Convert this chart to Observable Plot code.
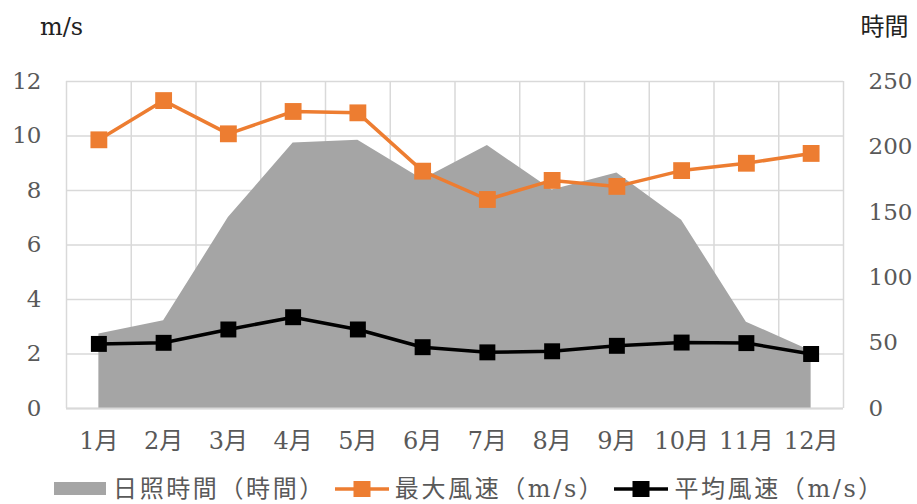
<!DOCTYPE html>
<html><head><meta charset="utf-8">
<script src="https://cdn.jsdelivr.net/npm/d3@7"></script>
<script src="https://cdn.jsdelivr.net/npm/@observablehq/plot@0.6"></script>
<style>
body{margin:0;background:#fff;width:917px;height:504px;overflow:hidden;font-family:"DejaVu Serif","Noto Sans CJK JP",serif;}
#chart svg, #chart svg text{font-family:"DejaVu Serif","Noto Sans CJK JP",serif !important;}
#chart{height:460px;}
#legend{display:flex;justify-content:center;align-items:center;height:28px;line-height:1;font-size:24px;letter-spacing:2.6px;color:#595959;font-family:"DejaVu Serif","Noto Sans CJK JP",serif;margin-top:15px;padding-left:20px;}
#legend .item{display:flex;align-items:center;margin:0 4px;}
#legend span{line-height:1;}
#legend svg{margin-right:5px;}
</style></head>
<body>
<div id="chart"></div>
<div id="legend"></div>
<script>
const months = ["1月","2月","3月","4月","5月","6月","7月","8月","9月","10月","11月","12月"];
const sunshine = [57, 67, 146, 203, 205, 175, 201, 167, 180, 144, 66, 44];
const maxWind = [9.86, 11.3, 10.08, 10.9, 10.85, 8.71, 7.67, 8.37, 8.15, 8.73, 9.0, 9.36];
const avgWind = [2.37, 2.41, 2.9, 3.35, 2.9, 2.25, 2.06, 2.1, 2.3, 2.42, 2.4, 2.0];
const leftTicks = [0, 2, 4, 6, 8, 10, 12];
const rightTicks = [0, 50, 100, 150, 200, 250];
const seriesNames = ["日照時間（時間）", "最大風速（m/s）", "平均風速（m/s）"];
const colors = ["#A5A5A5", "#ED7D31", "#000000"];

const leftMax = 12, rightMax = 250;
const k = leftMax / rightMax;
const idx = months.map((_, i) => i + 1);
const data = months.map((m, i) => ({i: i + 1, m, sun: sunshine[i] * k, max: maxWind[i], avg: avgWind[i]}));
const bounds = d3.range(0, months.length + 1).map(i => i + 0.5);
const grid = "#D9D9D9";
const textColor = "#595959";

const chart = Plot.plot({
  width: 917,
  height: 460,
  marginLeft: 66,
  marginRight: 74,
  marginTop: 81,
  marginBottom: 52,
  style: {fontFamily: '"DejaVu Serif","Noto Sans CJK JP",serif', fontSize: "23px", color: textColor},
  x: {domain: [0.5, months.length + 0.5]},
  y: {domain: [0, leftMax]},
  marks: [
    Plot.ruleY(leftTicks, {stroke: grid, strokeWidth: 1.5}),
    Plot.ruleX(bounds, {stroke: grid, strokeWidth: 1.5}),
    Plot.areaY(data, {x: "i", y: "sun", fill: colors[0]}),
    Plot.ruleY([0], {stroke: grid, strokeWidth: 2}),
    Plot.line(data, {x: "i", y: "max", stroke: colors[1], strokeWidth: 3.5}),
    Plot.dot(data, {x: "i", y: "max", symbol: "square", r: 9.5, fill: colors[1], stroke: "none"}),
    Plot.line(data, {x: "i", y: "avg", stroke: colors[2], strokeWidth: 3.5}),
    Plot.dot(data, {x: "i", y: "avg", symbol: "square", r: 9, fill: colors[2], stroke: "none"}),
    Plot.axisX(idx, {tickSize: 0, tickPadding: 23, tickFormat: d => months[d - 1], label: null, fill: textColor, fontSize: 24}),
    Plot.axisY(leftTicks, {anchor: "left", tickSize: 0, tickPadding: 25, label: null, fill: textColor, fontSize: 23}),
    Plot.axisY(rightTicks.map(v => v * k), {anchor: "right", tickSize: 0, tickPadding: 25, label: null, tickFormat: d => String(Math.round(d / k)), fill: textColor, fontSize: 23}),
    Plot.text(["m/s"], {frameAnchor: "top-left", dx: -5, textAnchor: "middle", fill: "#222", fontSize: 24, dy: -64}),
    Plot.text(["時間"], {frameAnchor: "top-right", dx: 41, textAnchor: "middle", fill: "#222", fontSize: 24, dy: -64})
  ]
});
document.getElementById("chart").appendChild(chart);

const legend = document.getElementById("legend");
seriesNames.forEach((name, i) => {
  const item = document.createElement("div");
  item.className = "item";
  let sw;
  if (i === 0) {
    sw = `<svg width="56" height="16"><rect x="2" y="1" width="52" height="13" fill="${colors[0]}"/></svg>`;
  } else {
    sw = `<svg width="56" height="20"><line x1="1" y1="10" x2="55" y2="10" stroke="${colors[i]}" stroke-width="3.5"/><rect x="19.5" y="2" width="17" height="16" fill="${colors[i]}"/></svg>`;
  }
  item.innerHTML = sw + `<span>${name}</span>`;
  legend.appendChild(item);
});
</script>
</body></html>
